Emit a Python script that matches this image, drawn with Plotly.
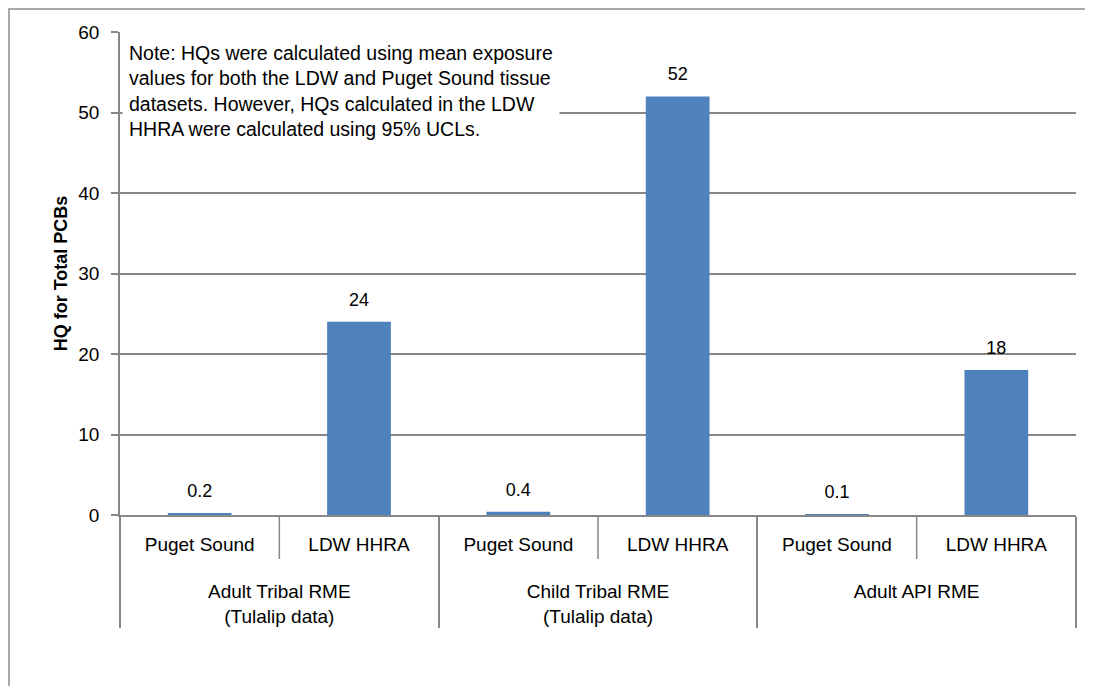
import plotly.graph_objects as go

groups = ["<br>Adult Tribal RME<br>(Tulalip data)", "<br>Adult Tribal RME<br>(Tulalip data)",
          "<br>Child Tribal RME<br>(Tulalip data)", "<br>Child Tribal RME<br>(Tulalip data)",
          "<br>Adult API RME", "<br>Adult API RME"]
datasets = ["Puget Sound", "LDW HHRA", "Puget Sound", "LDW HHRA", "Puget Sound", "LDW HHRA"]
hq_values = [0.2, 24, 0.4, 52, 0.1, 18]
hq_labels = ["0.2", "24", "0.4", "52", "0.1", "18"]
y_ticks = [0, 10, 20, 30, 40, 50, 60]
note_text = ("Note: HQs were calculated using mean exposure<br>"
             "values for both the LDW and Puget Sound tissue<br>"
             "datasets. However, HQs calculated in the LDW<br>"
             "HHRA were calculated using 95% UCLs.")

# the page body adds an 8px offset, so the figure is 8px smaller than the window
W, H = 1085, 678
ML, MR, MT, MB = 112, 17, 24, 171
PW, PH = W - ML - MR, H - MT - MB
FONT = "Liberation Sans, Arial, sans-serif"
GRID = "#878787"
BAR = "#4F81BD"

fig = go.Figure()
fig.add_trace(go.Bar(x=[groups, datasets], y=hq_values, marker=dict(color=BAR, line=dict(width=0)),
                     width=0.4, showlegend=False, hoverinfo="skip"))
fig.add_trace(go.Scatter(x=[groups, datasets], y=hq_values, mode="markers+text", text=hq_labels,
                         textposition="top center", marker=dict(size=17, opacity=0),
                         textfont=dict(family=FONT, size=18, color="#000000"),
                         showlegend=False, hoverinfo="skip"))

n = len(datasets)
shapes = []
# inner-level separators between datasets within each group
for k in range(1, n, 2):
    shapes.append(dict(type="line", xref="paper", yref="paper", x0=k / n, x1=k / n,
                       ysizemode="pixel", yanchor=0, y0=0, y1=-44,
                       line=dict(color=GRID, width=1.5)))
# outer chart border (left and top edges visible)
shapes.append(dict(type="rect", xref="paper", yref="paper",
                   x0=(1 - ML) / PW, x1=(W + 20 - ML) / PW,
                   y0=-(MB + 20) / PH, y1=1 + (MT - 1) / PH,
                   line=dict(color="#8C8C8C", width=1.5), fillcolor="rgba(0,0,0,0)", layer="below"))

fig.update_layout(
    width=W, height=H,
    margin=dict(l=ML, r=MR, t=MT, b=MB, autoexpand=False),
    paper_bgcolor="white", plot_bgcolor="white",
    font=dict(family=FONT, size=19, color="#000000"),
    bargap=0.6,
    shapes=shapes,
    xaxis=dict(type="multicategory", showline=True, linecolor=GRID, linewidth=1.5,
               showgrid=False, ticks="outside", tickson="labels", ticklen=11,
               tickcolor="rgba(0,0,0,0)", tickwidth=1,
               showdividers=True, dividercolor=GRID, dividerwidth=1.5,
               tickfont=dict(family=FONT, size=19), zeroline=False),
    yaxis=dict(range=[0, 60], tickvals=y_ticks, showgrid=True, gridcolor=GRID, gridwidth=1.5,
               showline=True, linecolor=GRID, linewidth=1.5, ticks="outside", ticklen=7,
               tickcolor=GRID, tickwidth=1.5, zeroline=False, ticklabelstandoff=8,
               tickfont=dict(family=FONT, size=19),
               title=dict(text="<b>HQ for Total PCBs</b>", font=dict(family=FONT, size=18), standoff=6)),
    annotations=[dict(text=note_text, xref="paper", yref="paper", x=0, y=1, xanchor="left", yanchor="top",
                      align="left", showarrow=False, bgcolor="white", borderpad=6, xshift=2, yshift=-3,
                      font=dict(family=FONT, size=19.5, color="#000000"))],
)

fig.write_html("out.html")
